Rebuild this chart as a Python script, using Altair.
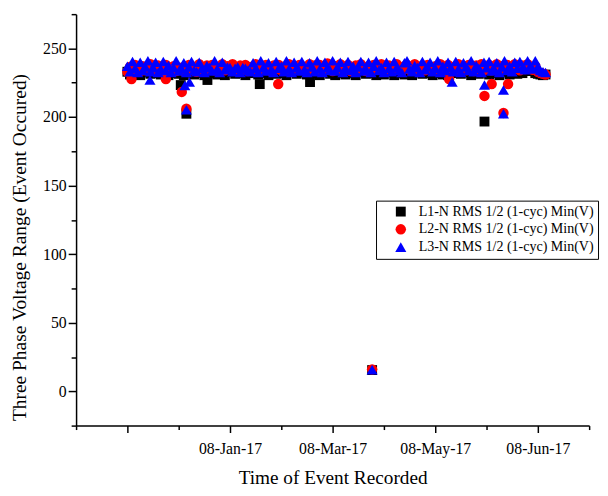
import altair as alt
import pandas as pd

series_names = ["L1-N RMS 1/2 (1-cyc) Min(V)", "L2-N RMS 1/2 (1-cyc) Min(V)", "L3-N RMS 1/2 (1-cyc) Min(V)"]
series_colors = ["#000000", "#ff0000", "#0000ff"]
series_shapes = ["square", "circle", "triangle-up"]
series_sizes = [100, 125, 185]

# dense band of recorded events (event number = position in list)
l1_vals = [233, 231, 234.5, 232, 233.5, 230.5, 235, 232.5, 234, 231.5, 234.5, 232, 233.5, 231, 235, 233, 230.5, 234, 232, 234.5,
           231.5, 233, 230.5, 234, 232.5, 235, 231, 233.5, 234.5, 232, 230.5, 234, 232, 235, 233, 231, 234.5, 232.5, 230.5, 234,
           233, 235.5, 231.5, 234, 232, 235, 230.5, 233.5, 235, 232, 234, 231, 233, 235, 232, 230.5, 234, 235.5, 231.5, 233,
           234.5, 232, 230.5, 234, 233, 235, 231.5, 234, 232.5, 235, 231, 233.5, 235, 232, 234, 230.5, 234.5, 233, 235.5, 231.5,
           233.5, 230.5, 234, 232, 235, 231, 233.5, 234.5, 232, 230.5, 234, 233, 235.5, 231.5, 233, 234.5, 232, 230.5, 235, 233,
           231, 234, 232.5, 235, 230.5, 233.5, 234.5, 232, 231, 235, 233, 230.5, 234, 232.5, 235.5, 231.5, 233, 234, 232, 230.5,
           234.5, 232, 235, 231, 233.5, 230.5, 234, 235.5, 232, 233, 231.5, 234.5, 232.5, 235, 230.5, 233, 234, 231.5, 235, 232.5,
           233, 231, 234.5, 232, 235, 230.5, 233.5, 234, 232.5, 231, 235.5, 233, 231.5, 234, 232, 235, 233.5, 236, 234, 232,
           231.5, 231, 230.5, 231]
l2_vals = [233, 236.5, 234.5, 238, 235, 233.5, 237, 234, 236, 238.5, 234, 235.5, 237.5, 233.5, 236, 238, 234.5, 235, 237, 233.5,
           234.5, 236, 233.5, 235.5, 238, 234, 236.5, 233, 238.5, 235, 233.5, 237.5, 235, 238, 234, 236.5, 235.5, 238.5, 234, 237,
           235, 238.5, 236, 234, 237.5, 235, 238, 233.5, 236.5, 235.5, 238.5, 234, 237, 235, 238, 236, 233.5, 237.5, 235, 238,
           234, 236.5, 235.5, 238.5, 233.5, 237, 235, 238, 234.5, 236.5, 235.5, 238.5, 234.5, 237.5, 234, 238, 236, 234, 239, 236,
           233.5, 237, 235, 238.5, 234, 236.5, 238, 233.5, 235.5, 237.5, 234, 238.5, 236, 233.5, 237, 235, 238, 234.5, 236.5, 238.5,
           235, 233.5, 237.5, 236, 234, 238.5, 235.5, 233.5, 237, 238, 234.5, 236, 238.5, 233.5, 235.5, 237.5, 234, 238, 236.5, 234,
           237, 235, 238.5, 233.5, 236, 238, 234.5, 236.5, 233.5, 238.5, 235, 237, 234, 238, 236, 233.5, 237.5, 235.5, 238.5, 234,
           236.5, 238, 234, 235.5, 238.5, 233.5, 237, 235, 238, 236, 234.5, 238.5, 236, 234, 237.5, 235, 238.5, 236.5, 234.5, 237,
           233, 232, 231.5, 231]
l3_vals = [237, 233, 240.5, 235.5, 232.5, 240, 234, 236.5, 241, 233, 236, 240, 232.5, 235, 240.5, 234, 237.5, 232.5, 236, 241,
           233.5, 235.5, 239.5, 232.5, 236.5, 240.5, 234, 233, 240, 235.5, 232.5, 237.5, 236, 233.5, 241, 235, 232.5, 240, 234.5, 236.5,
           236, 233, 235.5, 236.5, 232.5, 236, 235.5, 234, 233, 239.5, 235.5, 232.5, 241, 236, 233.5, 239.5, 234.5, 232.5, 240.5, 235.5,
           237, 233, 241, 235, 232.5, 240, 236, 233.5, 240.5, 234.5, 232.5, 239.5, 236.5, 233, 241, 235, 232.5, 240, 236, 234,
           241, 233.5, 236, 240, 232.5, 235.5, 240.5, 234, 237, 232.5, 236.5, 240.5, 233.5, 235, 240, 232.5, 237, 241, 234, 236,
           232.5, 240, 235.5, 233, 240.5, 236, 234, 232.5, 239.5, 241, 235, 233, 237.5, 236, 232.5, 240.5, 234.5, 236.5, 240, 233,
           235.5, 241, 232.5, 237, 234, 240, 236, 233, 240.5, 235, 232.5, 239.5, 236.5, 234, 241, 233, 237.5, 235.5, 232.5, 240,
           236, 240.5, 233.5, 235, 239.5, 232.5, 236.5, 241, 234, 237, 233, 240, 235.5, 240.5, 236, 234.5, 241, 237, 235, 241,
           236.5, 234, 233, 232.5]

# low-voltage events (sags): event number and value
l1_out_x = [20.8, 23, 31.2, 51.6, 71.2, 95.4, 139.2]
l1_out_v = [223.3, 202.4, 227.0, 224.0, 225.5, 15.5, 196.7]
l2_out_x = [1.6, 15, 21.2, 23, 58.8, 95.4, 125.4, 139.2, 142, 146.6, 148.4]
l2_out_v = [227.7, 227.7, 218.3, 206.0, 224.0, 16.0, 227.7, 215.4, 224.0, 203.0, 224.0]
l3_out_x = [8.8, 22.4, 23, 24.2, 95.4, 126.6, 139.2, 146.6, 146.6]
l3_out_v = [227.0, 223.0, 205.3, 225.5, 15.8, 225.5, 223.3, 219.7, 202.4]

x_tick_values = [-20, 0, 20, 40, 60, 80, 100, 120, 140, 160, 180]
x_label_values = [40, 80, 120, 160]
x_label_texts = ["08-Jan-17", "08-Mar-17", "08-May-17", "08-Jun-17"]
y_tick_values = [-25, 0, 25, 50, 75, 100, 125, 150, 175, 200, 225, 250, 275]

rows = []
for name, vals, ox, ov in [
    (series_names[0], l1_vals, l1_out_x, l1_out_v),
    (series_names[1], l2_vals, l2_out_x, l2_out_v),
    (series_names[2], l3_vals, l3_out_x, l3_out_v),
]:
    xs = list(range(len(vals))) + ox
    vs = vals + ov
    for xv, vv in zip(xs, vs):
        rows.append({"event": xv, "voltage": vv, "series": name})
df = pd.DataFrame(rows)

label_expr = "''"
for v, t in reversed(list(zip(x_label_values, x_label_texts))):
    label_expr = f"datum.value === {v} ? '{t}' : ({label_expr})"

FONT = "Liberation Serif"

chart = alt.Chart(df).mark_point(filled=True, opacity=1).encode(
    x=alt.X("event:Q",
            scale=alt.Scale(domain=[-20, 180], nice=False, zero=False),
            axis=alt.Axis(values=x_tick_values, labelExpr=label_expr,
                          title="Time of Event Recorded",
                          tickSize={"condition": {"test": "datum.value % 40 === 0", "value": 7}, "value": 4},
                          labelPadding=8, titlePadding=13, titleFontSize=19.5, labelFontSize=16,
                          labelFlush=False, labelOverlap=False,
                          labelColor="#000000", titleColor="#000000")),
    y=alt.Y("voltage:Q",
            scale=alt.Scale(domain=[-25, 275], nice=False, zero=False),
            axis=alt.Axis(values=y_tick_values,
                          labelExpr="datum.value % 50 === 0 ? datum.label : ''",
                          title="Three Phase Voltage Range (Event Occured)",
                          tickSize={"condition": {"test": "datum.value % 50 === 0", "value": 8}, "value": 5},
                          labelPadding=2, titleFontSize=19.7, labelFontSize=16,
                          titleX=-47, titleY=236, titleBaseline="bottom", titleAngle=270,
                          titleAlign="center",
                          labelFlush=False, labelOverlap=False,
                          labelColor="#000000", titleColor="#000000")),
    color=alt.Color("series:N", title=None,
                    scale=alt.Scale(domain=series_names, range=series_colors),
                    legend=alt.Legend(orient="none", legendX=304, legendY=189)),
    shape=alt.Shape("series:N", title=None,
                    scale=alt.Scale(domain=series_names, range=series_shapes),
                    legend=alt.Legend(orient="none", legendX=304, legendY=189)),
    size=alt.Size("series:N", scale=alt.Scale(domain=series_names, range=series_sizes), legend=None),
).properties(
    width=520, height=417,
    autosize=alt.AutoSizeParams(type="none"),
    padding={"left": 69, "top": 3, "right": 11, "bottom": 60},
).configure_view(stroke=None).configure_axis(
    domainColor="black", domainWidth=1.5, tickColor="black", tickWidth=1.5,
    labelFont=FONT, titleFont=FONT, labelColor="black", titleColor="black",
    titleFontWeight="normal", grid=False,
).configure_legend(
    strokeColor="black", fillColor="white", padding=4, labelFont=FONT,
    labelFontSize=14.2, labelColor="black", symbolSize=130, symbolStrokeWidth=0,
    symbolOffset=14, labelOffset=11, rowPadding=3, labelLimit=300,
)

chart.save("out.html", embed_options={"renderer": "svg", "actions": False})
